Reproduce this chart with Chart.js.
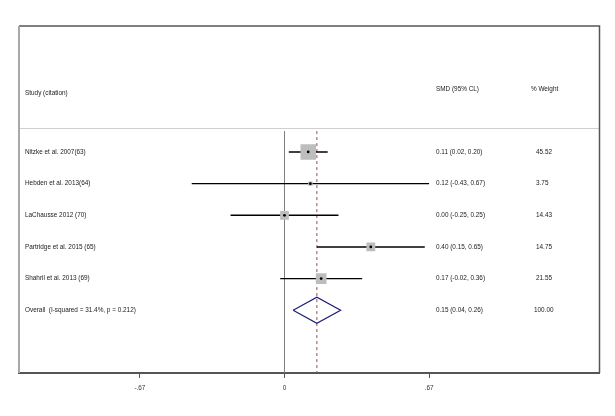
<!DOCTYPE html>
<html>
<head>
<meta charset="utf-8">
<script src="https://cdn.jsdelivr.net/npm/chart.js@4.4.1/dist/chart.umd.min.js"></script>
<style>
html,body{margin:0;padding:0;background:#fff;}
canvas{display:block;}
</style>
</head>
<body>
<canvas id="c" width="615" height="416"></canvas>
<script>
// ---- data ----
const studies = ["Nitzke et al. 2007(63)", "Hebden et al. 2013(64)", "LaChausse 2012 (70)", "Partridge et al. 2015 (65)", "Shahril et al. 2013 (69)"];
const smd = [0.11, 0.12, 0.00, 0.40, 0.17];
const lower = [0.02, -0.43, -0.25, 0.15, -0.02];
const upper = [0.20, 0.67, 0.25, 0.65, 0.36];
const weights = [45.52, 3.75, 14.43, 14.75, 21.55];
const overallLabel = "Overall  (I-squared = 31.4%, p = 0.212)";
const overallSMD = 0.15;
const overallLower = 0.04;
const overallUpper = 0.26;
const overallWeight = 100.00;
const tickValues = [-0.67, 0, 0.67];
const tickLabels = ["-.67", "0", ".67"];
const headerStudy = "Study (citation)";
const headerEffect = "SMD (95% CL)";
const headerWeight = "% Weight";

// ---- layout constants ----
const Y_TOP = -3.98, Y_BOTTOM = 6.983, Y_HEADER = -0.76, Y_REF_START = -0.66;
const overallRow = studies.length;
const maxSide = 15.5;

const datasets = [];
// centre dots (top)
datasets.push({
  type: 'scatter', order: 0,
  data: smd.map((v, i) => ({x: v, y: i})),
  pointStyle: 'circle', pointRadius: 1.4, pointBackgroundColor: '#000', pointBorderWidth: 0
});
// weight squares
datasets.push({
  type: 'scatter', order: 1,
  data: smd.map((v, i) => ({x: v, y: i})),
  pointStyle: 'rect',
  pointRadius: ctx => (maxSide * Math.sqrt(weights[ctx.dataIndex] / Math.max(...weights))) / Math.SQRT2,
  pointBackgroundColor: '#bdbdbd', pointBorderWidth: 0
});
// CI lines
studies.forEach((s, i) => {
  datasets.push({
    type: 'line', order: 2,
    data: [{x: lower[i], y: i}, {x: upper[i], y: i}],
    borderColor: '#000', borderWidth: 1.4, pointRadius: 0, fill: false
  });
});
// overall diamond
datasets.push({
  type: 'line', order: 3,
  data: [
    {x: overallLower, y: overallRow},
    {x: overallSMD, y: overallRow - 0.41},
    {x: overallUpper, y: overallRow},
    {x: overallSMD, y: overallRow + 0.41},
    {x: overallLower, y: overallRow}
  ],
  borderColor: '#1c1c78', borderWidth: 1.2, pointRadius: 0, fill: false, tension: 0
});
// null line
datasets.push({
  type: 'line', order: 4,
  data: [{x: 0, y: Y_REF_START}, {x: 0, y: Y_BOTTOM}],
  borderColor: '#808080', borderWidth: 1, pointRadius: 0
});
// overall effect dashed line
datasets.push({
  type: 'line', order: 4,
  data: [{x: overallSMD, y: Y_REF_START}, {x: overallSMD, y: Y_BOTTOM}],
  borderColor: '#9a4f4f', borderWidth: 1, borderDash: [3, 3], pointRadius: 0
});

const FONT = '6.4px "Liberation Sans", Arial, sans-serif';

const framePlugin = {
  id: 'frame',
  beforeDatasetsDraw(chart) {
    const {ctx, chartArea: a, scales: {y}} = chart;
    ctx.save();
    // header separator
    const hy = Math.round(y.getPixelForValue(Y_HEADER)) + 0.5;
    ctx.strokeStyle = '#cfcfcf'; ctx.lineWidth = 1;
    ctx.beginPath(); ctx.moveTo(a.left, hy); ctx.lineTo(a.right, hy); ctx.stroke();
    // top + right border
    ctx.strokeStyle = '#555'; ctx.lineWidth = 1.5;
    ctx.beginPath(); ctx.moveTo(a.left, a.top); ctx.lineTo(a.right, a.top); ctx.lineTo(a.right, a.bottom); ctx.stroke();
    // left border
    ctx.strokeStyle = '#a8a8a8'; ctx.lineWidth = 2;
    ctx.beginPath(); ctx.moveTo(a.left, a.top); ctx.lineTo(a.left, a.bottom); ctx.stroke();
    ctx.restore();
  },
  afterDraw(chart) {
    const {ctx, chartArea: a, scales: {y}} = chart;
    ctx.save();
    ctx.font = FONT;
    ctx.fillStyle = '#1a1a1a';
    ctx.textBaseline = 'middle';
    ctx.textAlign = 'left';
    const xStudy = a.left + 6, xEff = 436, xW = 536;
    ctx.fillText(headerStudy, xStudy, y.getPixelForValue(-1.86));
    ctx.fillText(headerEffect, xEff, y.getPixelForValue(-1.98));
    ctx.fillText(headerWeight, xW - 5, y.getPixelForValue(-1.98));
    studies.forEach((s, i) => {
      const py = y.getPixelForValue(i);
      ctx.fillText(s, xStudy, py);
      ctx.fillText(`${smd[i].toFixed(2)} (${lower[i].toFixed(2)}, ${upper[i].toFixed(2)})`, xEff, py);
      ctx.fillText(weights[i].toFixed(2), xW, py);
    });
    const py = y.getPixelForValue(overallRow);
    ctx.fillText(overallLabel, xStudy, py);
    ctx.fillText(`${overallSMD.toFixed(2)} (${overallLower.toFixed(2)}, ${overallUpper.toFixed(2)})`, xEff, py);
    ctx.fillText(overallWeight.toFixed(2), xW - 2, py);
    ctx.restore();
  }
};

new Chart(document.getElementById('c'), {
  data: {datasets},
  options: {
    responsive: false,
    animation: false,
    devicePixelRatio: 1,
    layout: {padding: {left: 19, right: 15.5, top: 26, bottom: 0}},
    plugins: {legend: {display: false}, tooltip: {enabled: false}},
    scales: {
      x: {
        type: 'linear', position: 'bottom',
        min: -1.2303, max: 1.4597,
        afterBuildTicks: s => { s.ticks = tickValues.map(v => ({value: v})); },
        afterFit: s => { s.height = 416 - 373; },
        ticks: {
          autoSkip: false, maxRotation: 0, padding: 6,
          color: '#333', font: {family: '"Liberation Sans", Arial, sans-serif', size: 6.4},
          callback: (v, i) => tickLabels[i]
        },
        grid: {display: true, drawOnChartArea: false, drawTicks: true, tickLength: 5, tickColor: '#555', tickWidth: 1},
        border: {display: true, color: '#555', width: 2}
      },
      y: {
        type: 'linear', display: false, reverse: true,
        min: Y_TOP, max: Y_BOTTOM
      }
    }
  },
  plugins: [framePlugin]
});
</script>
</body>
</html>
